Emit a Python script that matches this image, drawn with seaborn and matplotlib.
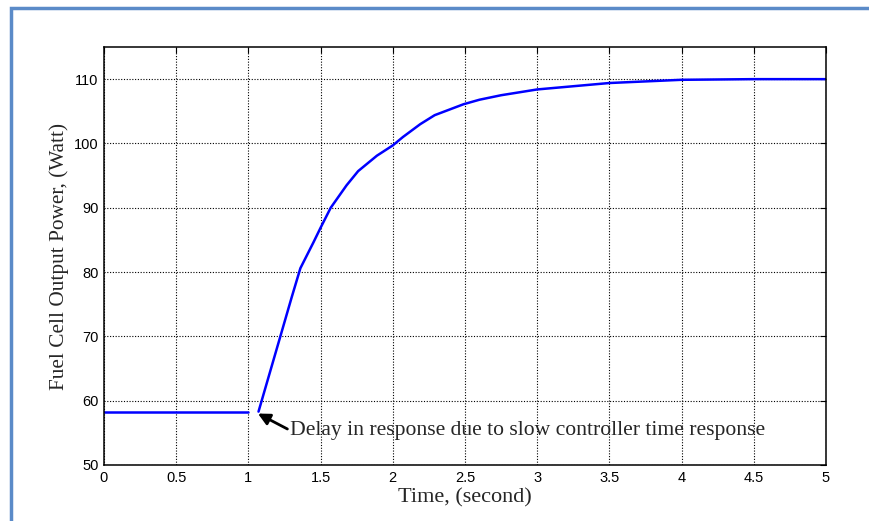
import numpy as np
import pandas as pd
import matplotlib
matplotlib.use("Agg")
import matplotlib.pyplot as plt
import seaborn as sns
from matplotlib.patches import Rectangle

# Data
time_flat = [0.0, 1.0]
power_flat = [58.3, 58.3]
time_rise = [1.07, 1.22, 1.30, 1.36, 1.45, 1.50, 1.57, 1.68, 1.76, 1.89, 2.00,
             2.07, 2.19, 2.29, 2.49, 2.60, 2.75, 3.00, 3.25, 3.50, 4.00, 4.50, 5.00]
power_rise = [58.3, 69.9, 76.1, 80.6, 84.6, 86.9, 90.0, 93.5, 95.7, 98.1, 99.7,
              101.0, 103.0, 104.4, 106.1, 106.8, 107.5, 108.4, 108.9, 109.4, 109.9, 110.0, 110.0]
x_ticks = [0, 0.5, 1, 1.5, 2, 2.5, 3, 3.5, 4, 4.5, 5]
x_tick_labels = ["0", "0.5", "1", "1.5", "2", "2.5", "3", "3.5", "4", "4.5", "5"]
y_ticks = [50, 60, 70, 80, 90, 100, 110]
x_label = "Time, (second)"
y_label = "Fuel Cell Output Power, (Watt)"
annotation_text = "Delay in response due to slow controller time response"
arrow_tip = (1.066, 58.0)
arrow_tail = (1.27, 55.6)
text_pos = (1.29, 55.4)

sns.set_style("white")
plt.rcParams['font.family'] = ['Liberation Sans', 'DejaVu Sans']

fig = plt.figure(figsize=(8.69, 5.21), dpi=100)
ax = fig.add_axes([104/869, 1-465/521, (826-104)/869, (465-47)/521])

df_flat = pd.DataFrame({"t": time_flat, "p": power_flat})
df_rise = pd.DataFrame({"t": time_rise, "p": power_rise})
sns.lineplot(data=df_flat, x="t", y="p", ax=ax, color="#0000ff", linewidth=1.8)
sns.lineplot(data=df_rise, x="t", y="p", ax=ax, color="#0000ff", linewidth=1.8)

ax.set_xlim(0, 5)
ax.set_ylim(50, 115)
ax.set_xticks(x_ticks)
ax.set_xticklabels(x_tick_labels)
ax.set_yticks(y_ticks)
ax.grid(True, color="black", linestyle=(0, (1, 1.5)), linewidth=0.8)
ax.set_axisbelow(True)
ax.tick_params(direction="in", length=4, width=0.8, top=True, right=True,
               labelsize=10.5, colors="black", pad=4)
for s in ax.spines.values():
    s.set_color("black")
    s.set_linewidth(1.1)

ax.set_xlabel(x_label, family="Liberation Serif", fontsize=16, labelpad=3)
ax.set_ylabel(y_label, family="Liberation Serif", fontsize=15.3, labelpad=3.5)

ax.annotate("", xy=arrow_tip, xytext=arrow_tail,
            arrowprops=dict(arrowstyle="-|>,head_length=0.7,head_width=0.35",
                            color="black", lw=2.0, shrinkA=0, shrinkB=0))
ax.text(text_pos[0], text_pos[1], annotation_text, family="Liberation Serif",
        fontsize=15.6, va="center", ha="left")

# Blue page frame
fig.patches.append(Rectangle((11/869, -0.1), 1.2, 1 - 8/521 + 0.1,
                             transform=fig.transFigure, fill=False,
                             edgecolor="#5b8bc8", linewidth=2.5, zorder=10))

fig.savefig("out.png", dpi=100, facecolor="white")
